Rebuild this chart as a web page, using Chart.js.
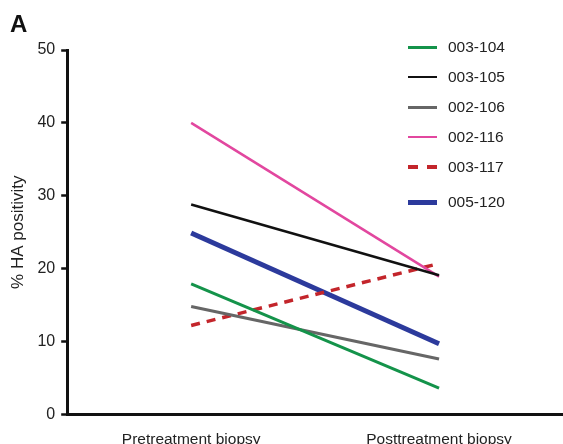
<!DOCTYPE html>
<html><head><meta charset="utf-8">
<script src="https://cdn.jsdelivr.net/npm/chart.js@4/dist/chart.umd.min.js"></script>
<style>
html,body{margin:0;padding:0;background:#fff;overflow:hidden;}
#wrap{position:relative;width:563px;height:444px;overflow:hidden;}
#c{position:absolute;left:0;top:0;}
#panel{position:absolute;left:10px;top:10px;font:bold 24px "Liberation Sans",Arial,sans-serif;color:#111;}
.leg{position:absolute;left:408px;height:20px;font:15.5px "Liberation Sans",Arial,sans-serif;color:#222;}
.leg span.sw{position:absolute;left:0;top:10px;width:29px;}
.leg span.tx{position:absolute;left:40px;top:1px;white-space:nowrap;}
</style></head>
<body><div id="wrap"><canvas id="c" width="563" height="458"></canvas><div id="panel">A</div><div id="legend"></div></div>
<script>
const categories = ["Pretreatment biopsy", "Posttreatment biopsy"];
const seriesNames = ["003-104", "003-105", "002-106", "002-116", "003-117", "005-120"];
const s003_104 = [17.9, 3.6];
const s003_105 = [28.8, 19.1];
const s002_106 = [14.8, 7.6];
const s002_116 = [40.0, 18.9];
const s003_117 = [12.2, 20.7];
const s005_120 = [24.9, 9.7];
const yTicks = [0, 10, 20, 30, 40, 50];

const values = [s003_104, s003_105, s002_106, s002_116, s003_117, s005_120];
const colors = ["#14934a", "#111111", "#666666", "#e2479f", "#c3252b", "#2c3a9c"];
const widths = [3, 2.5, 3, 2.5, 3.5, 5];
const dashes = [[], [], [], [], [9, 7], []];

const legendTops = [37, 67, 97, 127, 157, 192];
const legEl = document.getElementById('legend');
seriesNames.forEach((n, i) => {
  const d = document.createElement('div');
  d.className = 'leg';
  d.style.top = legendTops[i] + 'px';
  const sw = document.createElement('span');
  sw.className = 'sw';
  sw.style.height = widths[i] + 'px';
  sw.style.marginTop = (-widths[i] / 2) + 'px';
  if (dashes[i].length) {
    sw.style.background = 'linear-gradient(to right,' + colors[i] + ' 0 10px, transparent 10px 19px,' + colors[i] + ' 19px 29px)';
  } else {
    sw.style.background = colors[i];
  }
  const tx = document.createElement('span');
  tx.className = 'tx';
  tx.textContent = n;
  d.appendChild(sw); d.appendChild(tx);
  legEl.appendChild(d);
});

Chart.defaults.font.family = '"Liberation Sans", Arial, sans-serif';
Chart.defaults.color = '#222';
new Chart(document.getElementById('c'), {
  type: 'line',
  data: {
    labels: categories,
    datasets: seriesNames.map((n, i) => ({
      label: n,
      data: values[i],
      borderColor: colors[i],
      backgroundColor: colors[i],
      borderWidth: widths[i],
      borderDash: dashes[i],
      pointRadius: 0,
      tension: 0,
      fill: false
    }))
  },
  options: {
    responsive: false,
    animation: false,
    layout: { padding: { top: 50, right: 0, bottom: 0, left: 8 } },
    plugins: { legend: { display: false }, tooltip: { enabled: false } },
    scales: {
      x: {
        offset: true,
        grid: { display: false, drawOnChartArea: false, drawTicks: true, tickLength: 7, tickWidth: 2.5, tickColor: '#111', offset: false },
        border: { display: true, color: '#111', width: 3 },
        ticks: { font: { size: 15.5 }, color: '#222', padding: 9 }
      },
      y: {
        min: 0, max: 50,
        afterBuildTicks: (ax) => { ax.ticks = yTicks.map(v => ({ value: v })); },
        grid: { drawOnChartArea: false, drawTicks: true, tickLength: 6, tickWidth: 2.5, tickColor: '#111' },
        border: { display: true, color: '#111', width: 3 },
        ticks: { font: { size: 16 }, color: '#222', padding: 6 },
        title: { display: true, text: '% HA positivity', font: { size: 17 }, color: '#222', padding: { top: 0, bottom: 3 } }
      }
    }
  }
});
</script>
</body></html>
